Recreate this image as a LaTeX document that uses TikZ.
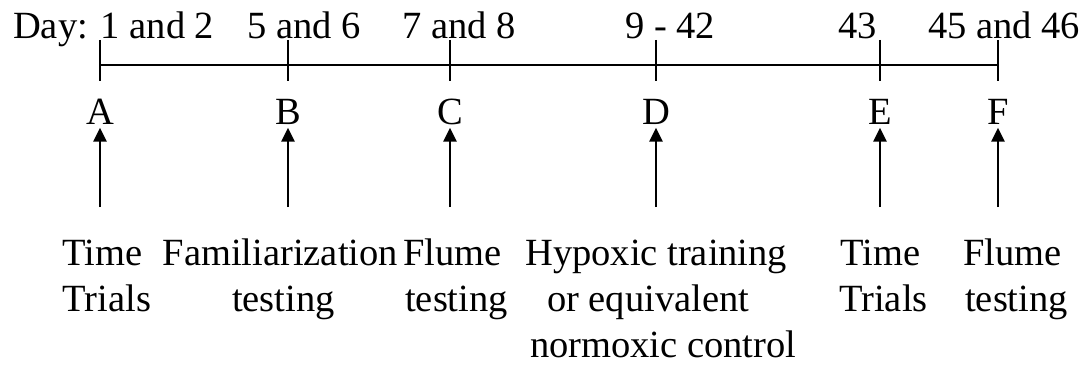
\documentclass[tikz,border=0pt]{standalone}
\usepackage{fontspec}
\setmainfont{Liberation Serif}
\usetikzlibrary{arrows.meta}
\begin{document}
\begin{tikzpicture}[x=1pt,y=-1pt,
  lbl/.style={inner sep=0pt,anchor=base west,font=\fontsize{38.5}{46}\selectfont},
  letter/.style={inner sep=0pt,anchor=base,text depth=0pt,font=\fontsize{38.5}{46}\selectfont},
  axis/.style={line width=2.6pt},
  tick/.style={line width=2.6pt},
  arr/.style={line width=2.6pt,-{Triangle[length=14pt,width=13pt]},shorten >=3.5pt}]
\useasboundingbox (0,0) rectangle (1090,369);
% day labels
\node[lbl] (d1) at (13,39) {Day: 1 and 2};
\node[lbl] (d2) at (247,39) {5 and 6};
\node[lbl] (d3) at (402,39) {7 and 8};
\node[lbl] (d4) at (625,39) {9 - 42};
\node[lbl] (d5) at (838,39) {43};
\node[lbl] (d6) at (928,39) {45 and 46};
% ticks
\foreach \n/\x in {tA/100,tB/288,tC/450,tD/656,tE/880,tF/998}{
  \coordinate (\n top) at (\x,40);
  \coordinate (\n) at (\x,65);
  \coordinate (\n bot) at (\x,81);
  \draw[tick] (\n top) -- (\n bot);
}
\draw[axis] (tA) -- (tF);
% letters
\node[letter] (A) at (100,124) {A};
\node[letter] (B) at (288,124) {B};
\node[letter] (C) at (450,124) {C};
\node[letter] (D) at (656,124) {D};
\node[letter] (E) at (880,124) {E};
\node[letter] (F) at (998,124) {F};
% arrows
\foreach \l/\x in {A/100,B/288,C/450,D/656,E/880,F/998}{
  \coordinate (s\l) at (\x,207);
  \draw[arr] (s\l) -- (\l.south);
}
% descriptions
\node[lbl] (a1) at (62.5,265) {Time};
\node[lbl] (a2) at (62.5,311.5) {Trials};
\node[lbl] (b1) at (162.5,265) {Familiarization};
\node[lbl] (b2) at (232,311.5) {testing};
\node[lbl] (c1) at (403,265) {Flume};
\node[lbl] (c2) at (405,311.5) {testing};
\node[lbl] (e1) at (525,265) {Hypoxic training};
\node[lbl] (e2) at (547,311.5) {or equivalent};
\node[lbl] (e3) at (530,357) {normoxic control};
\node[lbl] (f1) at (840,265) {Time};
\node[lbl] (f2) at (839,311.5) {Trials};
\node[lbl] (g1) at (963,265) {Flume};
\node[lbl] (g2) at (965,311.5) {testing};
\end{tikzpicture}
\end{document}
